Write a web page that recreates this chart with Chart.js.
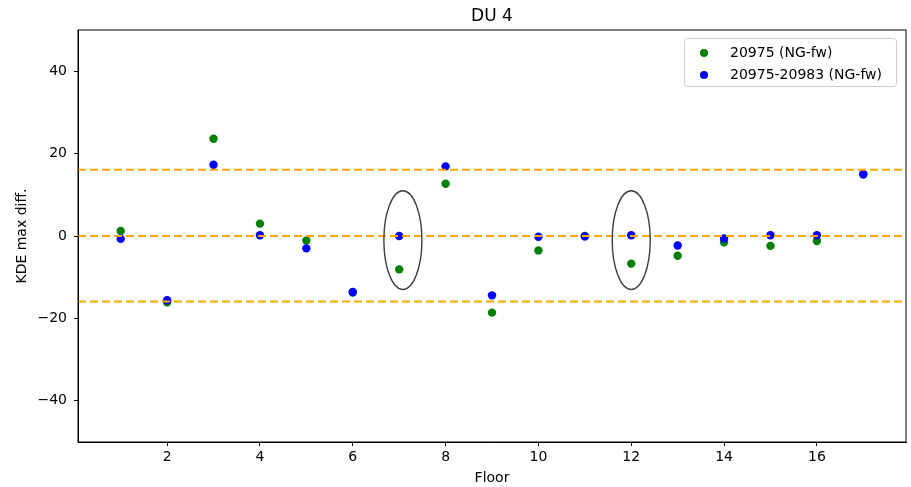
<!DOCTYPE html>
<html>
<head>
<meta charset="utf-8">
<script src="https://cdn.jsdelivr.net/npm/chart.js@4/dist/chart.umd.min.js"></script>
<style>
  html, body { margin: 0; padding: 0; background: #fff; }
  #wrap { width: 911px; height: 487px; }
</style>
</head>
<body>
<div id="wrap"><canvas id="c" width="911" height="487"></canvas></div>
<script>
// data
const floors = [1, 2, 3, 4, 5, 6, 7, 8, 9, 10, 11, 12, 13, 14, 15, 16, 17];
const single = [1.2, -16.1, 23.6, 3.0, -1.1, -13.7, -8.1, 12.7, -18.6, -3.5, 0.0, -6.7, -4.8, -1.5, -2.4, -1.2, 15.0];
const pair = [-0.7, -15.6, 17.3, 0.2, -3.0, -13.6, 0.0, 16.9, -14.4, -0.2, -0.1, 0.2, -2.3, -0.6, 0.2, 0.2, 15.0];
const refLines = [16.1, 0, -15.9];
const xTicks = [2, 4, 6, 8, 10, 12, 14, 16];
const yTicks = [-40, -20, 0, 20, 40];
// highlighted floors (ellipses, in data units)
const circled = [
  { x: 7.08, y: -1, w: 0.82, h: 24 },
  { x: 12.0, y: -1, w: 0.82, h: 24 }
];

const FONT = 'DejaVu Sans';
const minus = v => String(v).replace('-', '\u2212');

const overlay = {
  id: 'overlay',
  afterDatasetsDraw(chart) {
    const { ctx, chartArea: a, scales: { x, y } } = chart;
    ctx.save();
    // dashed reference lines
    ctx.strokeStyle = '#ffa500';
    ctx.lineWidth = 2;
    ctx.setLineDash([8, 4]);
    refLines.forEach(v => {
      const py = y.getPixelForValue(v);
      ctx.beginPath();
      ctx.moveTo(a.left, py);
      ctx.lineTo(a.right, py);
      ctx.stroke();
    });
    ctx.setLineDash([]);
    // ellipses
    ctx.strokeStyle = '#3f3f3f';
    ctx.lineWidth = 1.4;
    circled.forEach(e => {
      const cx = x.getPixelForValue(e.x), cy = y.getPixelForValue(e.y);
      const rx = Math.abs(x.getPixelForValue(e.x + e.w / 2) - cx);
      const ry = Math.abs(y.getPixelForValue(e.y + e.h / 2) - cy);
      ctx.beginPath();
      ctx.ellipse(cx, cy, rx, ry, 0, 0, Math.PI * 2);
      ctx.stroke();
    });
    // frame
    ctx.strokeStyle = '#000';
    ctx.lineWidth = 1;
    ctx.strokeRect(a.left, a.top, a.right - a.left, a.bottom - a.top);
    // title
    ctx.fillStyle = '#000';
    ctx.font = '17px "' + FONT + '"';
    ctx.textAlign = 'center';
    ctx.textBaseline = 'middle';
    ctx.fillText('DU 4', (a.left + a.right) / 2, 17);
    // legend
    const lx = 684, ly = 38, lw = 212, lh = 48;
    ctx.fillStyle = 'rgba(255,255,255,0.8)';
    ctx.strokeStyle = '#cccccc';
    ctx.beginPath();
    ctx.roundRect(lx + 0.5, ly + 0.5, lw, lh, 3);
    ctx.fill();
    ctx.stroke();
    ctx.font = '14px "' + FONT + '"';
    ctx.textAlign = 'left';
    const legendOrder = [1, 0];
    legendOrder.forEach((di, i) => {
      const ds = chart.data.datasets[di];
      const yy = 53 + i * 22;
      ctx.fillStyle = ds.backgroundColor;
      ctx.beginPath();
      ctx.arc(704, yy, 4, 0, Math.PI * 2);
      ctx.fill();
      ctx.fillStyle = '#000';
      ctx.fillText(ds.label, 730, yy);
    });
    ctx.restore();
  }
};

new Chart(document.getElementById('c'), {
  type: 'scatter',
  data: {
    datasets: [
      {
        label: '20975-20983 (NG-fw)',
        data: floors.map((f, i) => ({ x: f, y: pair[i] })),
        backgroundColor: '#0000ff',
        borderWidth: 0,
        pointRadius: 4.2,
        order: 1
      },
      {
        label: '20975 (NG-fw)',
        data: floors.map((f, i) => ({ x: f, y: single[i] })),
        backgroundColor: '#008000',
        borderWidth: 0,
        pointRadius: 4.2,
        order: 2
      }
    ]
  },
  options: {
    responsive: false,
    animation: false,
    layout: { padding: { top: 30, right: 5, left: 0, bottom: 0 } },
    plugins: {
      legend: { display: false },
      tooltip: { enabled: false },
      title: { display: false }
    },
    scales: {
      x: {
        type: 'linear',
        min: 0.08,
        max: 17.92,
        afterBuildTicks: s => { s.ticks = xTicks.map(v => ({ value: v })); },
        afterFit: s => { s.height = 45; },
        grid: { drawOnChartArea: false, tickLength: 4, color: '#000' },
        border: { display: true, color: '#000' },
        ticks: { color: '#000', padding: 3, font: { family: FONT, size: 14 }, maxRotation: 0, callback: v => minus(v) },
        title: { display: true, text: 'Floor', color: '#000', font: { family: FONT, size: 14 }, padding: { top: 0, bottom: 0 } }
      },
      y: {
        min: -50,
        max: 50,
        afterBuildTicks: s => { s.ticks = yTicks.map(v => ({ value: v })); },
        afterFit: s => { s.width = 78; },
        grid: { drawOnChartArea: false, tickLength: 4, color: '#000' },
        border: { display: true, color: '#000' },
        ticks: { color: '#000', padding: 7, font: { family: FONT, size: 14 }, callback: v => minus(v) },
        title: { display: true, text: 'KDE max diff.', color: '#000', font: { family: FONT, size: 14 }, padding: { top: 14, bottom: 0 } }
      }
    }
  },
  plugins: [overlay]
});
</script>
</body>
</html>
